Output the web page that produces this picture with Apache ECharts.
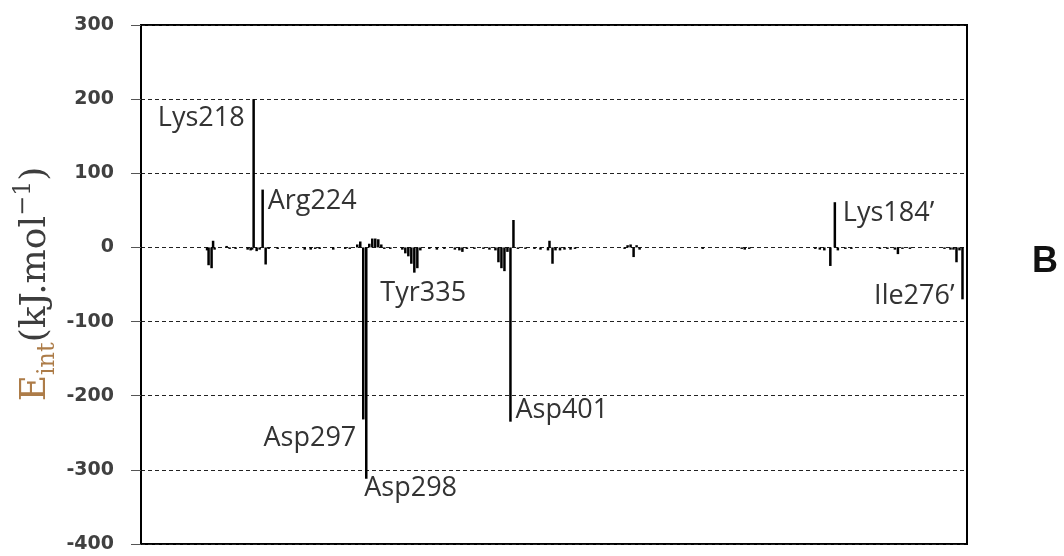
<!DOCTYPE html>
<html>
<head>
<meta charset="utf-8">
<script src="https://cdn.jsdelivr.net/npm/echarts@6/dist/echarts.min.js"></script>
<style>
  html, body { margin: 0; padding: 0; background: #fff; }
  #chart { width: 1064px; height: 556px; }
</style>
</head>
<body>
<div id="chart"></div>
<script>
// Per-residue interaction energies (kJ/mol) along the sequence slots of both chains
const residueSlot = [
  44, 45, 47, 48, 49, 57, 59, 63,
  71, 73, 74, 75, 77, 79, 81, 83, 85,
  91, 99, 109, 113, 116, 119, 128, 136, 139,
  144, 146, 148, 150, 152, 154, 156, 158, 160, 162, 166,
  174, 176, 178, 180, 182, 184, 186, 192, 197, 202, 209, 212, 214, 217, 222, 228, 232,
  236, 238, 240, 242, 244, 246, 248, 251, 256, 262, 266, 271, 272, 274, 276, 279, 282, 286, 289,
  322, 324, 326, 328, 330, 332,
  374, 400, 402, 405,
  449, 452, 455, 459, 462, 464, 469, 473,
  492, 497, 502, 504, 507, 512,
  535, 539, 541, 543, 545, 547
];
const energy = [
  -4, -24, -28, 9, -3, 2, -2, -2,
  -3, -4, -3, 200, -5, -3, 78, -23, -2,
  -2, -2, -3, -3, -2, -2, -3, -2, -2,
  4, 8, -232, -312, 5, 12, 12, 11, 4, -2, -2,
  -3, -8, -12, -22, -34, -28, -4, -2, -3, -2, -3, -4, -6, -2, -2, -2, -3,
  -4, -20, -28, -32, -6, -235, 37, -2, -2, -2, -3, -4, 9, -22, -4, -4, -3, -3, -2,
  -2, 3, 4, -13, 3, -3,
  -2, -2, -3, -2,
  -2, -3, -4, -25, 61, -4, -2, -2,
  -2, -2, -3, -9, -2, -2,
  -2, -3, -3, -20, -4, -70
];

// Named residues and the sequence slot of each
const labelNames = ['Lys218', 'Arg224', 'Asp297', 'Asp298', 'Tyr335', 'Asp401', 'Lys184’', 'Ile276’'];
const labelSlots = [75, 81, 148, 150, 182, 246, 462, 547];

// Y-axis ticks
const yTicks = [-400, -300, -200, -100, 0, 100, 200, 300];

// Where each residue name sits next to the end of its bar
const labelPlacement = {
  'Lys218':  { position: 'left',  offset: [-9, 19] },
  'Arg224':  { position: 'right', offset: [5, 12] },
  'Asp297':  { position: 'left',  offset: [-7, 19] },
  'Asp298':  { position: 'right', offset: [-2, 10] },
  'Tyr335':  { position: 'right', offset: [-34, 21] },
  'Asp401':  { position: 'right', offset: [5, -11] },
  'Lys184’': { position: 'right', offset: [8, 11] },
  'Ile276’': { position: 'left',  offset: [-8, -3] }
};

const barData = residueSlot.map((s, i) => [s, energy[i]]);
const markData = labelNames.map((name, i) => {
  const slot = labelSlots[i];
  const value = energy[residueSlot.indexOf(slot)];
  const p = labelPlacement[name];
  return {
    name: name,
    coord: [slot, value],
    label: {
      show: true,
      formatter: name,
      position: p.position,
      distance: 0,
      offset: p.offset
    }
  };
});

const chart = echarts.init(document.getElementById('chart'), null, { renderer: 'canvas' });
chart.setOption({
  animation: false,
  backgroundColor: '#fff',
  grid: {
    left: 141, right: 97, top: 25, bottom: 12,
    show: true,
    borderColor: '#000',
    borderWidth: 2,
    backgroundColor: 'transparent'
  },
  xAxis: {
    type: 'value',
    min: 0,
    max: 550,
    axisLine: { show: false },
    axisTick: { show: false },
    axisLabel: { show: false },
    splitLine: { show: false }
  },
  yAxis: {
    type: 'value',
    min: yTicks[0],
    max: yTicks[yTicks.length - 1],
    interval: 100,
    axisLine: { show: true, lineStyle: { color: '#000', width: 2 } },
    axisTick: { show: true, length: 10, lineStyle: { color: '#555', width: 1 } },
    axisLabel: {
      margin: 27,
      fontFamily: 'DejaVu Sans',
      fontWeight: 'bold',
      fontSize: 19,
      color: '#404040'
    },
    splitLine: {
      show: true,
      lineStyle: { color: '#222', width: 1, type: [4, 3] }
    }
  },
  graphic: [
    {
      type: 'text',
      x: 36,
      y: 284,
      rotation: Math.PI / 2,
      style: {
        text: '{e|E}{sub|int}{n|(kJ.mol}{sup|−1}{n|)}',
        align: 'center',
        verticalAlign: 'middle',
        rich: {
          e:   { fontFamily: 'DejaVu Serif', fontSize: 36, lineHeight: 48, fill: '#ad7c48', verticalAlign: 'middle' },
          sub: { fontFamily: 'DejaVu Serif', fontSize: 24, lineHeight: 24, fill: '#ad7c48', verticalAlign: 'bottom' },
          n:   { fontFamily: 'DejaVu Serif', fontSize: 36, lineHeight: 48, fill: '#3d3d3d', verticalAlign: 'middle' },
          sup: { fontFamily: 'DejaVu Serif', fontSize: 24, lineHeight: 24, fill: '#3d3d3d', verticalAlign: 'top' }
        }
      }
    },
    {
      type: 'text',
      x: 1045,
      y: 262,
      style: {
        text: 'B',
        align: 'center',
        verticalAlign: 'middle',
        fontFamily: 'Liberation Sans',
        fontWeight: 'bold',
        fontSize: 36,
        fill: '#111'
      }
    }
  ],
  series: [
    {
      type: 'bar',
      data: barData,
      barWidth: 2.5,
      itemStyle: { color: '#000' },
      markPoint: {
        symbol: 'circle',
        symbolSize: 0,
        itemStyle: { color: 'transparent' },
        label: {
          fontFamily: 'Open Sans',
          fontSize: 27,
          color: '#333'
        },
        data: markData
      }
    }
  ]
});
</script>
</body>
</html>
